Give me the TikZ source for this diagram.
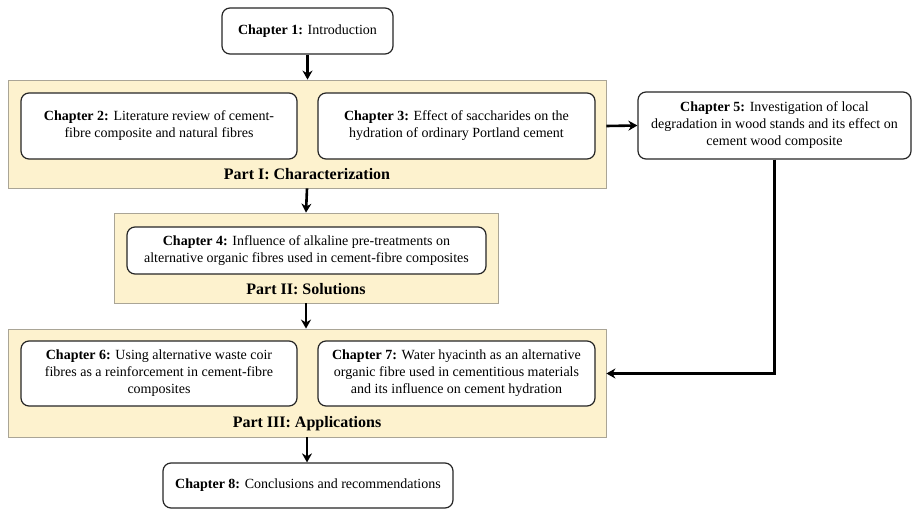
\documentclass[tikz,border=0pt]{standalone}
\usepackage{fontspec}
\setmainfont{Liberation Serif}
\usetikzlibrary{arrows.meta}

\definecolor{partfill}{RGB}{253,242,206}
\definecolor{partline}{RGB}{170,165,150}

\begin{document}
\begin{tikzpicture}[x=1pt, y=-1pt]
\tikzstyle{chap} = [rectangle, rounded corners=8pt, draw=black!85, line width=1.2pt, fill=white, align=center, inner sep=0pt, font=\fontsize{14}{17}\selectfont]
\tikzstyle{part} = [rectangle, draw=partline, line width=0.8pt, fill=partfill, inner sep=0pt]
\tikzstyle{partlabel} = [font=\fontsize{16}{18}\selectfont\bfseries]
\tikzstyle{arrow} = [line width=2.6pt, -{Stealth[length=9pt, width=10pt]}]

\useasboundingbox (0,0) rectangle (912,510);

% panels
\node (partI) [part, minimum width=598pt, minimum height=108pt] at (307,134) {};
\node (partII) [part, minimum width=384pt, minimum height=90pt] at (306,258) {};
\node (partIII) [part, minimum width=598pt, minimum height=108pt] at (307,383) {};

\node (labI) [partlabel] at (307,174) {Part I: Characterization};
\node (labII) [partlabel] at (306,289) {Part II: Solutions};
\node (labIII) [partlabel] at (307,424) {Part III: Applications};

% chapters
\node (ch1) [chap, minimum width=171pt, minimum height=46pt] at (307.5,31) {\textbf{Chapter 1:} Introduction};
\node (ch2) [chap, minimum width=276pt, minimum height=66pt] at (159,126) {\textbf{Chapter 2:} Literature review of cement-\\fibre composite and natural fibres};
\node (ch3) [chap, minimum width=277pt, minimum height=66pt] at (456.5,126) {\textbf{Chapter 3:} Effect of saccharides on the\\hydration of ordinary Portland cement};
\node (ch5) [chap, minimum width=273pt, minimum height=67pt] at (774.5,125.5) {\textbf{Chapter 5:} Investigation of local\\degradation in wood stands and its effect on\\cement wood composite};
\node (ch4) [chap, minimum width=359pt, minimum height=47pt] at (306.5,250.5) {\textbf{Chapter 4:} Influence of alkaline pre-treatments on\\alternative organic fibres used in cement-fibre composites};
\node (ch6) [chap, minimum width=276pt, minimum height=65pt] at (159,373.5) {\textbf{Chapter 6:} Using alternative waste coir\\fibres as a reinforcement in cement-fibre\\composites};
\node (ch7) [chap, minimum width=277pt, minimum height=65pt] at (456.5,373.5) {\textbf{Chapter 7:} Water hyacinth as an alternative\\organic fibre used in cementitious materials\\and its influence on cement hydration};
\node (ch8) [chap, minimum width=290pt, minimum height=45pt] at (308,485.5) {\textbf{Chapter 8:} Conclusions and recommendations};

% connectors
\draw [arrow] (ch1.south) -- (ch1.south |- partI.north);
\draw [arrow] (partI.south) -- (partII.north);
\draw [arrow] (partII.south) -- (partII.south |- partIII.north);
\draw [arrow] (partIII.south) -- (partIII.south |- ch8.north);
\draw [arrow] (ch3.east -| partI.east) -- (ch5.west);
\draw [arrow] (ch5.south) |- (ch7.east -| partIII.east);
\end{tikzpicture}
\end{document}
